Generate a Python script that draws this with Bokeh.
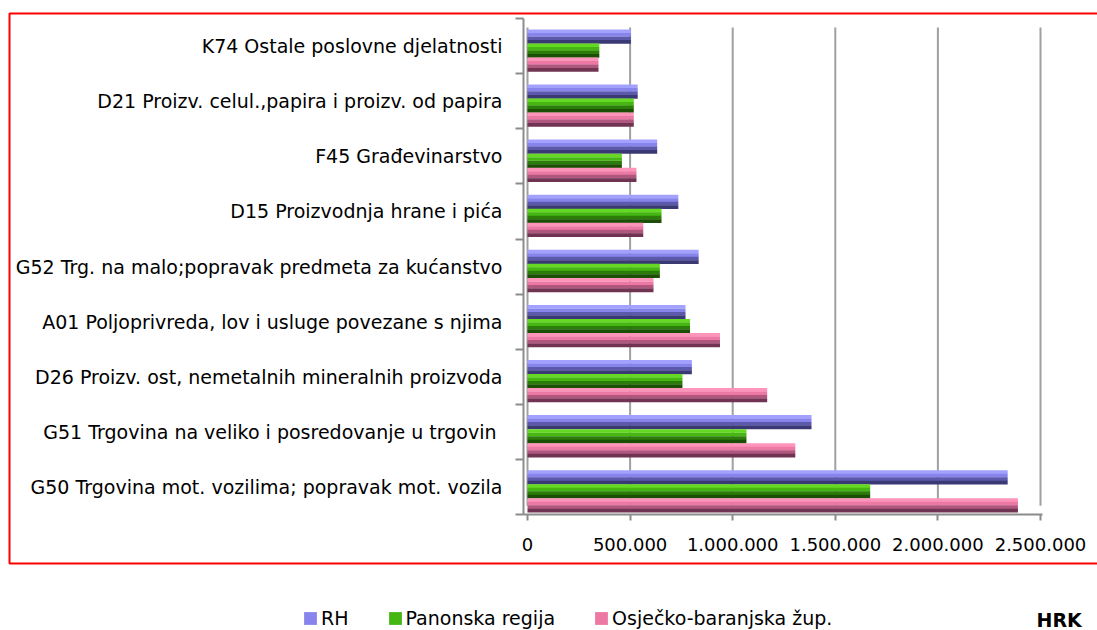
from bokeh.plotting import figure
from bokeh.models import FixedTicker, BoxAnnotation, Label, Legend, LegendItem, Range1d
from bokeh.embed import file_html
from bokeh.resources import INLINE

# ---- data (top to bottom as shown) ----
categories = [
    "K74 Ostale poslovne djelatnosti",
    "D21 Proizv. celul.,papira i proizv. od papira",
    "F45 Građevinarstvo",
    "D15 Proizvodnja hrane i pića",
    "G52 Trg. na malo;popravak predmeta za kućanstvo",
    "A01 Poljoprivreda, lov i usluge povezane s njima",
    "D26 Proizv. ost, nemetalnih mineralnih proizvoda",
    "G51  Trgovina na veliko i posredovanje u trgovin",
    "G50 Trgovina mot. vozilima; popravak mot. vozila",
]
rh = [504000, 537000, 632000, 735000, 834000, 770000, 801000, 1384000, 2340000]
panonska = [350000, 518000, 460000, 653000, 645000, 792000, 755000, 1067000, 1670000]
osijek = [346000, 518000, 531000, 564000, 614000, 938000, 1168000, 1305000, 2390000]
series_names = ["RH", "Panonska regija", "Osječko-baranjska žup."]
x_ticks = [0, 500000, 1000000, 1500000, 2000000, 2500000]
x_tick_labels = ["0", "500.000", "1.000.000", "1.500.000", "2.000.000", "2.500.000"]
unit_label = "HRK"

# shading (top -> bottom) for the cylinder-like bars
shades = [
    ["#a3a1ff", "#8784ec", "#5c59ad", "#3b3973"],
    ["#64d822", "#45b612", "#2b7c09", "#1b4f05"],
    ["#ff94bb", "#ec79a3", "#b0577f", "#713352"],
]

FONT = "DejaVu Sans"
W, H = 1097, 630
n = len(categories)

# layout geometry (pixels)
F_LEFT, F_TOP = 7, 11           # frame covers everything inside the red box and below
X0_PX, PX_PER_UNIT = 527.0, 205.2e-6
Y0_PX, BAND_PX = 514.0, 55.1
x_start = -(X0_PX - F_LEFT) / PX_PER_UNIT
x_end = (W - X0_PX) / PX_PER_UNIT
y_start = -(H - Y0_PX) / BAND_PX
y_end = (Y0_PX - F_TOP) / BAND_PX

p = figure(width=W, height=H, output_backend="svg", toolbar_location=None,
           x_range=Range1d(x_start, x_end), y_range=Range1d(y_start, y_end),
           min_border_left=F_LEFT, min_border_right=0, min_border_top=F_TOP,
           min_border_bottom=0)
p.background_fill_color = "white"
p.border_fill_color = "white"
p.outline_line_color = None

# gridlines on the back wall
p.xgrid.grid_line_color = None
p.ygrid.grid_line_color = None
p.segment(x0=x_ticks, x1=x_ticks, y0=[0.16] * len(x_ticks), y1=[n - 0.16] * len(x_ticks),
          line_color="#a0a0a0", line_width=2)

bar_h = 0.255
shift = -0.08
offsets = [1, 0, -1]
all_series = [rh, panonska, osijek]
legend_renderers = []
for s, vals in enumerate(all_series):
    ys_base = [(n - 1 - i) + 0.5 + shift + offsets[s] * bar_h for i in range(n)]
    main_r = None
    for j in range(4):
        yc = [yb + bar_h / 2 - (j + 0.5) * bar_h / 4 for yb in ys_base]
        r = p.hbar(y=yc, right=vals, left=0, height=bar_h / 4 * 1.06,
                   fill_color=shades[s][j], line_color=None)
        if j == 1:
            main_r = r
    legend_renderers.append(main_r)

axis_left = -4 / PX_PER_UNIT   # front axis sits a few px left of the bar base

# x axis
xa = p.xaxis[0]
xa.fixed_location = 0
xa.bounds = (axis_left, 2510000)
xa.ticker = FixedTicker(ticks=x_ticks)
xa.major_label_overrides = dict(zip(x_ticks, x_tick_labels))
xa.axis_line_color = "#8c8c8c"
xa.axis_line_width = 2
xa.major_tick_line_color = "#8c8c8c"
xa.major_tick_line_width = 2
xa.major_tick_out = 6
xa.major_tick_in = 0
xa.minor_tick_line_color = None
xa.major_label_text_font = FONT
xa.major_label_text_font_size = "18px"
xa.major_label_text_color = "black"
xa.major_label_standoff = 17

# y axis with ticks between categories
ya = p.yaxis[0]
ya.fixed_location = axis_left
ya.bounds = (0, n)
centers = [i + 0.5 for i in range(n)]
ya.ticker = FixedTicker(ticks=centers, minor_ticks=list(range(n + 1)))
ya.major_label_overrides = {n - 1 - i + 0.5: c for i, c in enumerate(categories)}
ya.axis_line_color = "#8c8c8c"
ya.axis_line_width = 2
ya.major_tick_line_color = None
ya.major_tick_out = 0
ya.major_tick_in = 0
ya.minor_tick_line_color = "#8c8c8c"
ya.minor_tick_line_width = 2
ya.minor_tick_out = 8
ya.minor_tick_in = 0
ya.major_label_text_font = FONT
ya.major_label_text_font_size = "19px"
ya.major_label_text_color = "black"
ya.major_label_standoff = 13

# red frame around the chart area
p.add_layout(BoxAnnotation(left=9, right=W + 50, top=13, bottom=563,
                           left_units="canvas", right_units="canvas",
                           top_units="canvas", bottom_units="canvas",
                           fill_alpha=0, line_color="#ff0000", line_alpha=1.0,
                           line_width=2))

# legend along the bottom
lg = Legend(items=[LegendItem(label=series_names[s], renderers=[legend_renderers[s]])
                   for s in range(3)],
            location=(302 - F_LEFT, 1), orientation="horizontal",
            glyph_width=16, glyph_height=16, label_standoff=3,
            padding=0, margin=0, spacing=38, label_height=20,
            border_line_alpha=0, background_fill_alpha=0,
            label_text_font=FONT, label_text_font_size="19px",
            label_text_color="black")
p.add_layout(lg, "center")

p.add_layout(Label(x=(1036 - X0_PX) / PX_PER_UNIT, y=-(619 - Y0_PX) / BAND_PX,
                   text=unit_label, text_font=FONT, text_font_size="19px",
                   text_font_style="bold", text_baseline="middle", text_color="black"))

open("out.html", "w").write(file_html(p, INLINE))
